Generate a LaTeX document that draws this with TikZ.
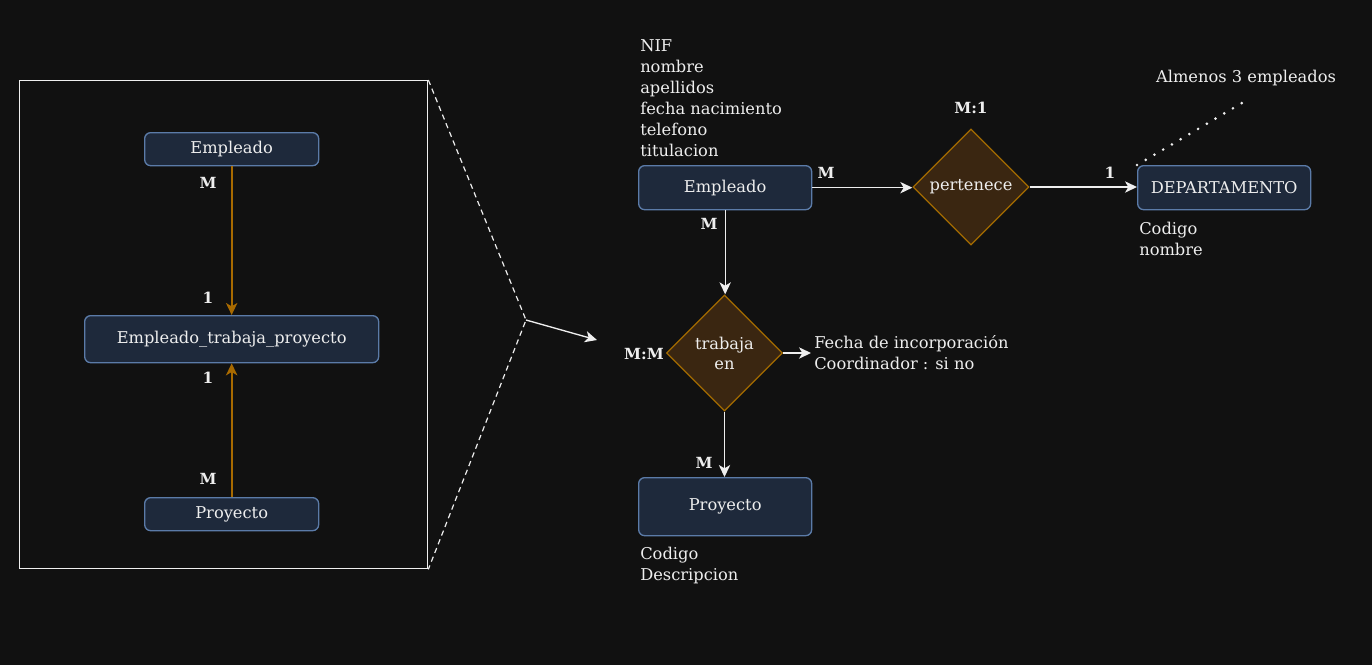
\documentclass[tikz,border=0pt]{standalone}
\usepackage{fontspec}
\setmainfont{DejaVu Serif}
\usetikzlibrary{arrows.meta,shapes.geometric,positioning}
\definecolor{bg}{HTML}{111111}
\definecolor{txt}{HTML}{EEEEEE}
\definecolor{boxfill}{HTML}{1E293B}
\definecolor{boxdraw}{HTML}{5B7BA8}
\definecolor{diafill}{HTML}{3A2611}
\definecolor{diadraw}{HTML}{A36B00}
\definecolor{orng}{HTML}{A86A00}
\tikzset{
  x=0.75pt, y=-0.75pt,
  every node/.style={text=txt, font=\fontsize{12.2}{15}\selectfont},
  entity/.style={draw=boxdraw, fill=boxfill, rounded corners=4.5pt, line width=1pt, inner sep=0pt, anchor=north west},
  rel/.style={diamond, draw=diadraw, fill=diafill, line width=1pt, inner sep=0pt, minimum width=87pt, minimum height=87pt, align=center},
  card/.style={font=\bfseries\fontsize{11.5}{13}\selectfont},
  attr/.style={anchor=north west, align=left, inner sep=0pt, font=\fontsize{12.2}{15.75}\selectfont},
  wline/.style={draw=txt, line width=1pt, -{Stealth[length=9pt,width=8.5pt,inset=2.5pt]}},
  oline/.style={draw=orng, line width=1.5pt, -{Stealth[length=9pt,width=8.5pt,inset=2.5pt]}},
}
\begin{document}
\begin{tikzpicture}
\fill[bg] (0,0) rectangle (1372,665);
\useasboundingbox (0,0) rectangle (1372,665);

% left frame
\node[draw=txt!90, line width=1pt, minimum width=306pt, minimum height=366pt, inner sep=0pt, anchor=north west] (frame) at (19,80) {};
\node[entity, minimum width=130.5pt, minimum height=24.75pt] (le) at (144,132) {Empleado};
\node[entity, minimum width=220.5pt, minimum height=35.25pt] (ltp) at (84,315) {Empleado\_trabaja\_proyecto};
\node[entity, minimum width=130.5pt, minimum height=24.75pt] (lp) at (144,497) {Proyecto};
\draw[oline] (le.south) -- (ltp.north);
\draw[oline] (lp.north) -- (ltp.south);
\node[card] (c1) at (208,183) {M};
\node[card] (c2) at (208,298) {1};
\node[card] (c3) at (208,378) {1};
\node[card] (c4) at (208,479) {M};

% zoom connector
\coordinate (apex) at (526,320);
\coordinate (apto) at (597,340);
\draw[txt, line width=0.9pt, dash pattern=on 4pt off 3pt] (frame.north east) -- (apex) -- (frame.south east);
\draw[wline] (apex) -- (apto);

% right diagram
\node[entity, minimum width=129.75pt, minimum height=33pt] (re) at (638,165) {Empleado};
\node[attr] (reattr) at (640,39) {NIF\\nombre\\apellidos\\fecha nacimiento\\telefono\\titulacion};
\node[rel] (pert) at (971,187) {pertenece};
\node[card] (m1) at (971,108) {M:1};
\node[entity, minimum width=129.75pt, minimum height=33pt] (dep) at (1137,165) {DEPARTAMENTO};
\node[attr] (depattr) at (1139,222) {Codigo\\nombre};
\draw[wline] (re.east) -- (re.east -| pert.west);
\draw[wline] (pert.east) -- (pert.east -| dep.west);
\node[card] (c5) at (826,173) {M};
\node[card] (c6) at (1110,173) {1};
\node (note) at (1246,78) {Almenos 3 empleados};
\coordinate (noteend) at (1247,100);
\draw[txt, line width=2.2pt, line cap=round, dash pattern=on 0pt off 7.6pt] (dep.north west) -- (noteend);

\node[rel] (trab) at (724.5,353) {trabaja\\en};
\node[card] (mm) at (644,354) {M:M};
\draw[wline] (re.south) -- (re.south |- trab.north);
\node[card] (c7) at (709,224) {M};
\coordinate (trabattrto) at (811,353);
\draw[wline] (trab.east) -- (trabattrto);
\node[attr] (trabattr) at (814,335) {Fecha de incorporación\\Coordinador : si no};

\node[entity, minimum width=129.75pt, minimum height=43.5pt] (rp) at (638,477) {Proyecto};
\draw[wline] (trab.south) -- (trab.south |- rp.north);
\node[card] (c8) at (704,463) {M};
\node[attr] (rpattr) at (640,547) {Codigo\\Descripcion};
\end{tikzpicture}
\end{document}
